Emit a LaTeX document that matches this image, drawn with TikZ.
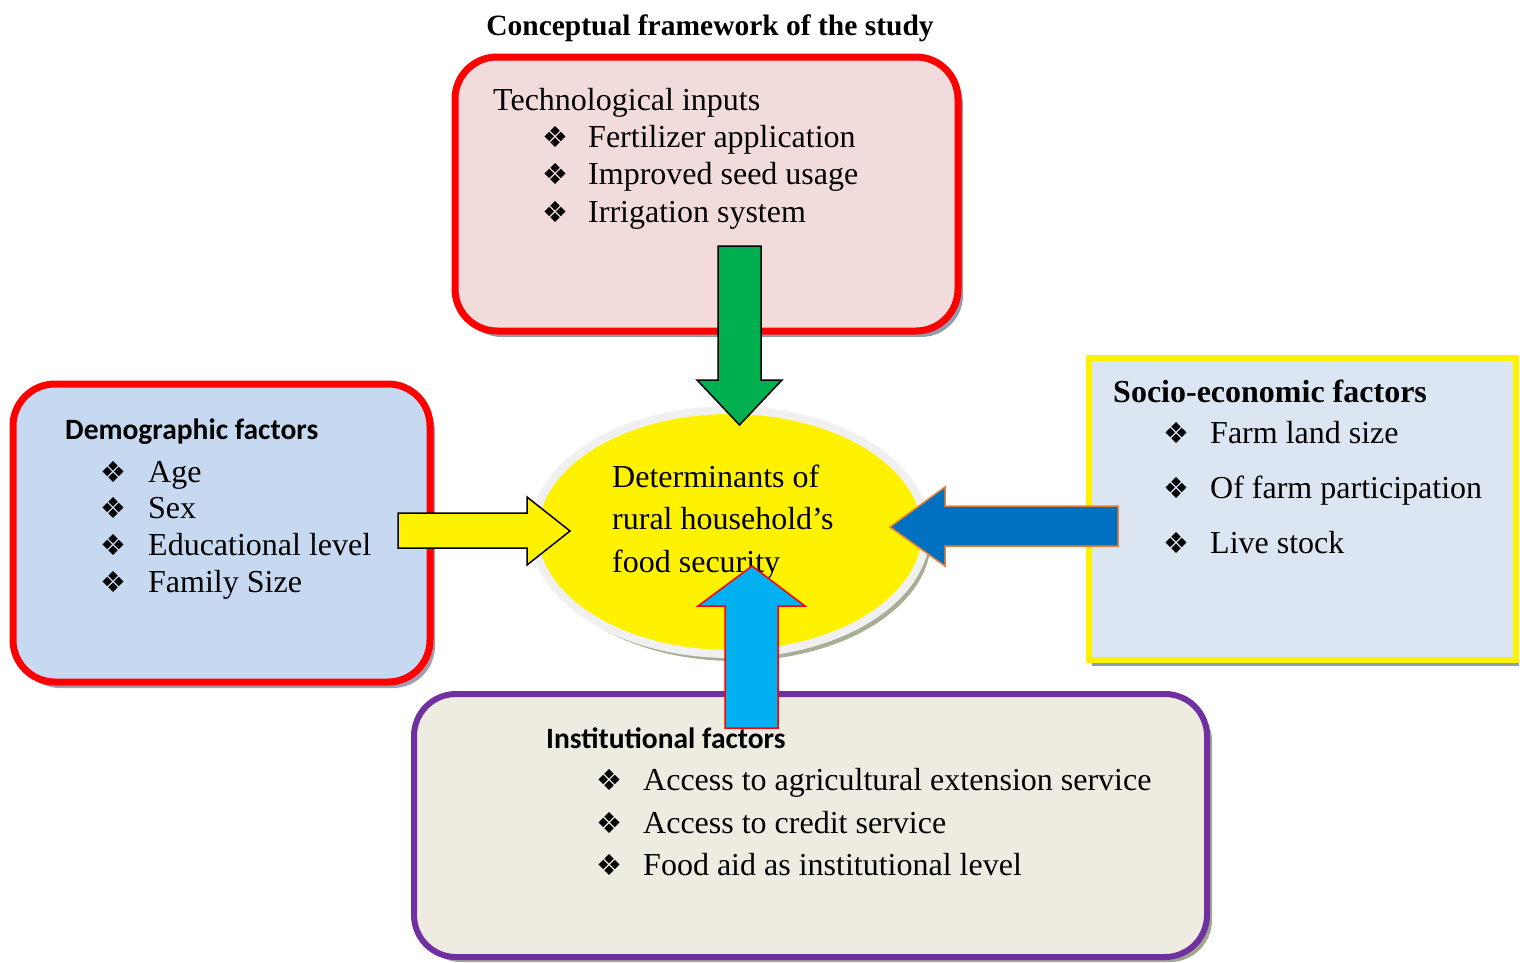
\documentclass[tikz,border=0pt]{standalone}
\usepackage{fontspec}
\setmainfont{Liberation Serif}
\newfontfamily\calib{Carlito}
\newfontfamily\dejavu{DejaVu Sans}
\usetikzlibrary{shapes.geometric,shadows}
\definecolor{techfill}{HTML}{F2DCDB}
\definecolor{demofill}{HTML}{C6D9F1}
\definecolor{sociofill}{HTML}{DCE6F2}
\definecolor{instfill}{HTML}{EEECE1}
\definecolor{purp}{HTML}{7030A0}
\definecolor{grn}{HTML}{00B050}
\definecolor{blu}{HTML}{0070C0}
\definecolor{orng}{HTML}{ED7D31}
\definecolor{cyn}{HTML}{00B0F0}
\definecolor{shblue}{HTML}{8E9DB0}
\definecolor{shpurp}{HTML}{A39DAE}
\definecolor{shgreen}{HTML}{A3A68E}
\definecolor{shell}{HTML}{A6AE93}
\definecolor{ellborder}{HTML}{F0F0F0}
\begin{document}
\begin{tikzpicture}[x=1pt,y=-1pt,
  boxbase/.style={inner sep=0pt, outer sep=0pt},
  roundbox/.style={boxbase, rounded corners=42pt, line width=7pt},
  txt/.style={anchor=base west, inner sep=0pt, font=\fontsize{32}{38}\selectfont},
  btxt/.style={anchor=base west, inner sep=0pt, font=\bfseries\fontsize{32}{38}\selectfont},
  ctxt/.style={anchor=base west, inner sep=0pt, font=\calib\bfseries\fontsize{29.5}{35}\selectfont},
  bul/.style={anchor=base west, inner sep=0pt, font=\dejavu\fontsize{29}{34}\selectfont},
  arrowshape/.style={line width=1.5pt, line join=miter}
]
\useasboundingbox (0,0) rectangle (1520,962);

% title
\node[anchor=base, inner sep=0pt, font=\bfseries\fontsize{29.5}{35}\selectfont] (title) at (710,35) {Conceptual framework of the study};

% technological box
\node[roundbox, draw=red, fill=techfill, minimum width=503pt, minimum height=274pt,
  drop shadow={shadow xshift=5pt, shadow yshift=-6pt, fill=shblue, opacity=1}] (tech) at (706.5,194) {};
\node[txt] (t0) at (493,110) {Technological inputs};
\node[bul] (tb1) at (542,147) {❖};
\node[bul] (tb2) at (542,184) {❖};
\node[bul] (tb3) at (542,222) {❖};
\node[txt] (t1) at (588,147) {Fertilizer application};
\node[txt] (t2) at (588,184) {Improved seed usage};
\node[txt] (t3) at (588,222) {Irrigation system};

% demographic box
\node[roundbox, draw=red, fill=demofill, minimum width=417pt, minimum height=298pt,
  drop shadow={shadow xshift=5pt, shadow yshift=-6pt, fill=shpurp, opacity=1}] (demo) at (221.5,533) {};
\node[ctxt] (d0) at (65,439) {Demographic factors};
\node[bul] (db1) at (100,482) {❖};
\node[bul] (db2) at (100,518) {❖};
\node[bul] (db3) at (100,555) {❖};
\node[bul] (db4) at (100,592) {❖};
\node[txt] (d1) at (148,482) {Age};
\node[txt] (d2) at (148,518) {Sex};
\node[txt] (d3) at (148,555) {Educational level};
\node[txt] (d4) at (148,592) {Family Size};

% socio-economic box
\node[boxbase, draw=yellow, line width=6pt, fill=sociofill, minimum width=427pt, minimum height=302pt,
  drop shadow={shadow xshift=3pt, shadow yshift=-6pt, fill=shblue, opacity=1}] (socio) at (1302.5,509) {};
\node[btxt] (s0) at (1113,402) {Socio-economic factors};
\node[bul] (sb1) at (1163,443) {❖};
\node[bul] (sb2) at (1163,498) {❖};
\node[bul] (sb3) at (1163,553) {❖};
\node[txt] (s1) at (1210,443) {Farm land size};
\node[txt] (s2) at (1210,498) {Of farm participation};
\node[txt] (s3) at (1210,553) {Live stock};

% institutional box
\node[roundbox, draw=purp, line width=6pt, fill=instfill, minimum width=793pt, minimum height=263pt,
  drop shadow={shadow xshift=5pt, shadow yshift=-5pt, fill=shgreen, opacity=1}] (inst) at (810.5,825.5) {};
\node[ctxt] (i0) at (546,748) {Institutional factors};
\node[bul] (ib1) at (596,790) {❖};
\node[bul] (ib2) at (596,833) {❖};
\node[bul] (ib3) at (596,875) {❖};
\node[txt] (i1) at (643,790) {Access to agricultural extension service};
\node[txt] (i2) at (643,833) {Access to credit service};
\node[txt] (i3) at (643,875) {Food aid as institutional level};

% central ellipse
\node[ellipse, draw=ellborder, line width=8pt, fill=yellow, minimum width=392pt, minimum height=244pt, inner sep=0pt,
  drop shadow={shadow xshift=5pt, shadow yshift=-7pt, fill=shell, opacity=1}] (core) at (730,532) {};
\node[txt] (e1) at (612,487) {Determinants of};
\node[txt] (e2) at (612,529) {rural household’s};
\node[txt] (e3) at (612,572) {food security};

% block arrows
\draw[arrowshape, draw=black, fill=grn] (718,246) -- (761,246) -- (761,380) -- (782,380) -- (739.5,425) -- (697,380) -- (718,380) -- cycle;
\draw[arrowshape, draw=black, fill=yellow] (398,513) -- (527,513) -- (527,497) -- (570,531) -- (527,565) -- (527,548) -- (398,548) -- cycle;
\draw[arrowshape, draw=orng, fill=blu] (1118,506) -- (945,506) -- (945,487) -- (890,527) -- (945,566) -- (945,546) -- (1118,546) -- cycle;
\draw[arrowshape, draw=red, fill=cyn] (725,728) -- (725,606) -- (698,606) -- (752,566) -- (805,606) -- (778,606) -- (778,728) -- cycle;
\end{tikzpicture}
\end{document}
